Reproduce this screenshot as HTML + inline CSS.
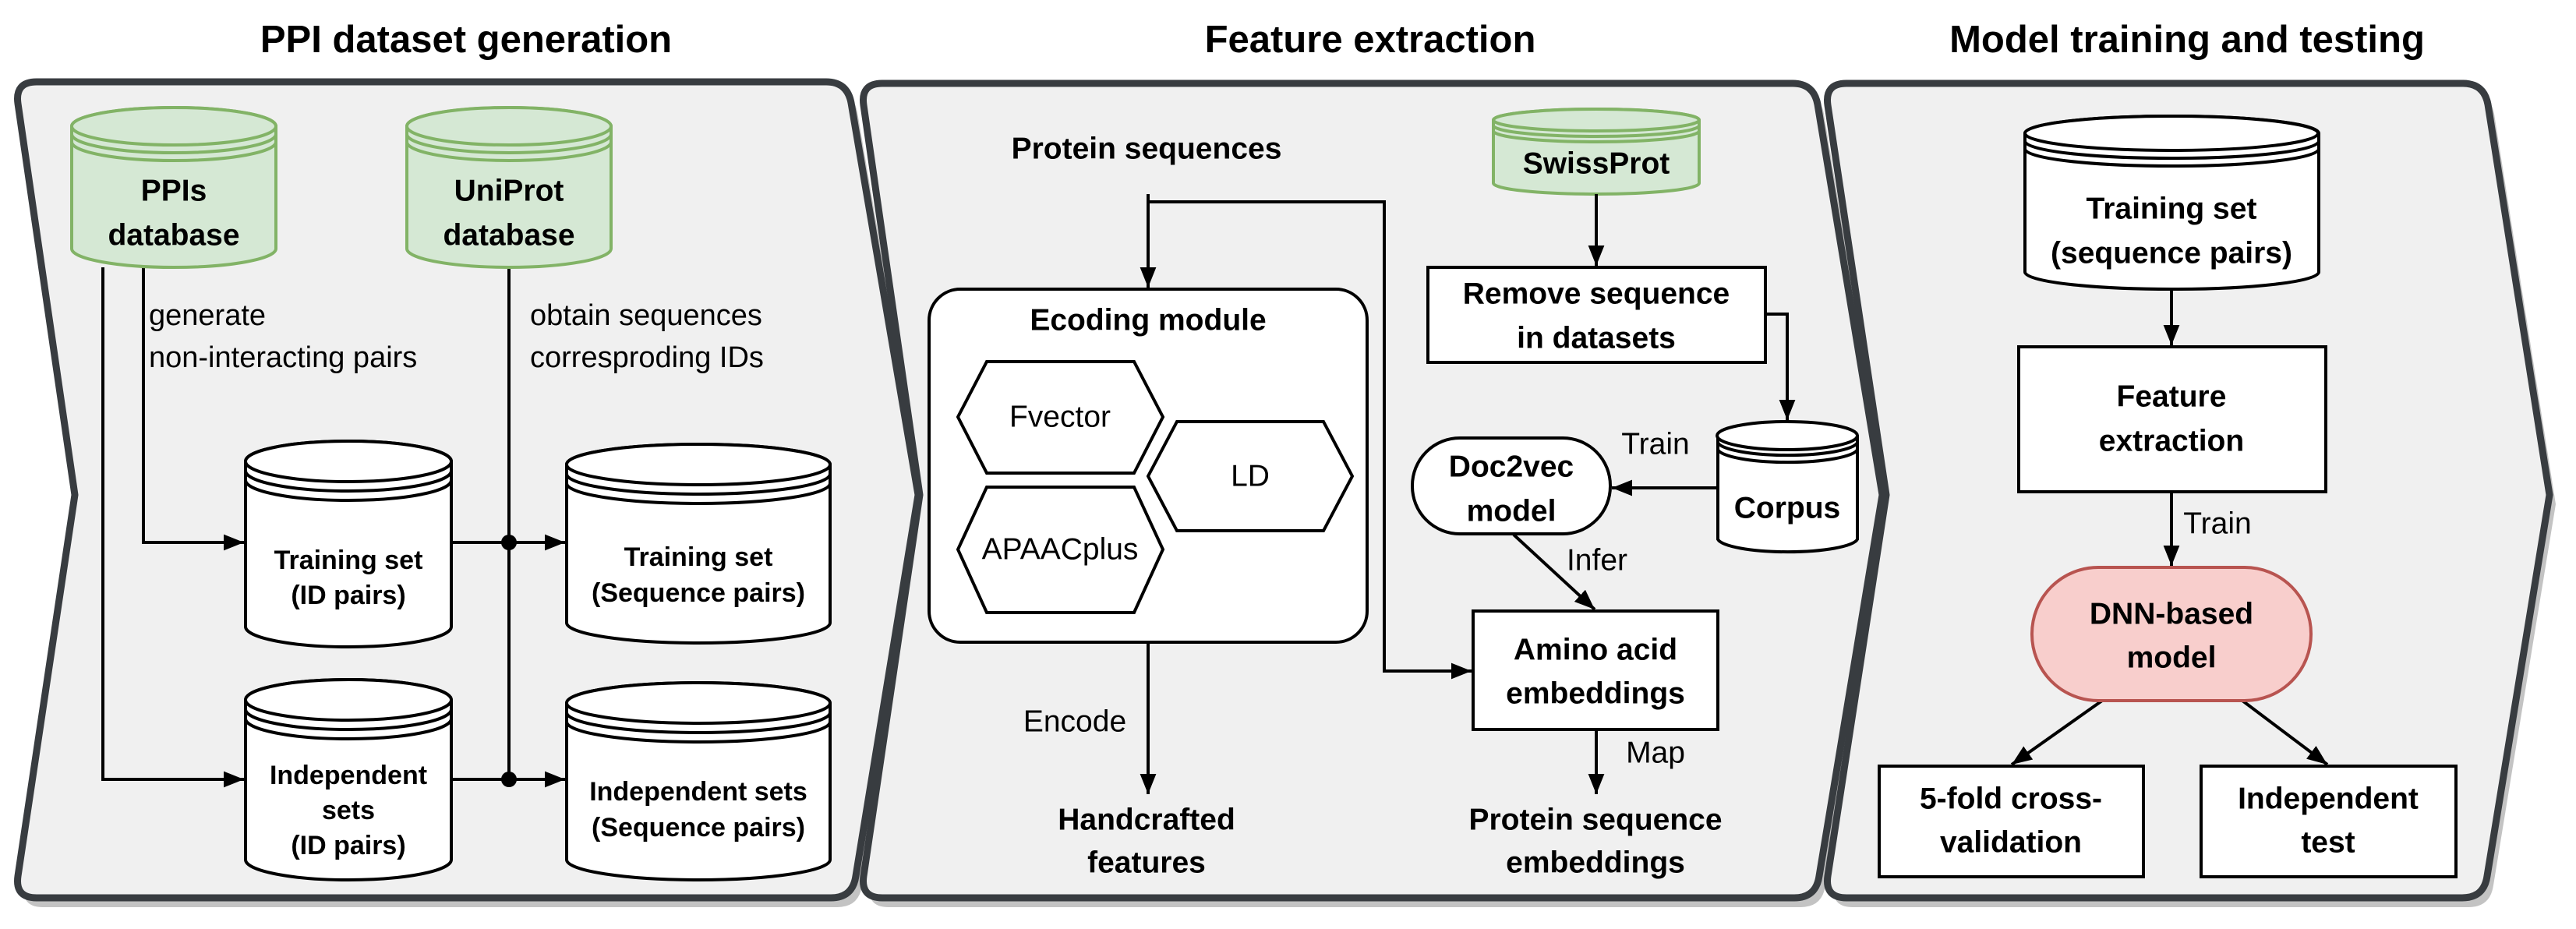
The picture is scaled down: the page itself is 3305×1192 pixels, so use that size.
<!DOCTYPE html>
<html><head><meta charset="utf-8"><style>
html,body{margin:0;padding:0;background:#fff;}
svg{display:block;}
text{font-family:"Liberation Sans",Arial,sans-serif;fill:#000;}
.b{font-weight:bold;}
</style></head><body>
<svg width="3305" height="1192" viewBox="0 0 3305 1192" xmlns="http://www.w3.org/2000/svg">
<defs>
<marker id="ar" viewBox="0 0 10 10" refX="10" refY="5" markerWidth="26" markerHeight="26" markerUnits="userSpaceOnUse" orient="auto">
<path d="M0,1 L10,5 L0,9 Z" fill="#000"/></marker>
</defs>

<!-- titles -->
<g class="b" font-size="49" text-anchor="middle">
<text x="598" y="67" class="b">PPI dataset generation</text>
<text x="1758" y="67" class="b">Feature extraction</text>
<text x="2806" y="67" class="b">Model training and testing</text>
</g>

<!-- panel shadows -->
<g fill="#c3c3c3" transform="translate(8,12)">
<path d="M47,105 L1060,105 Q1087,105 1092,132 L1178,635 L1098,1124 Q1094,1152 1066,1152 L47,1152 Q19,1152 23,1124 L96,635 L23,133 Q19,105 47,105 Z"/>
<path d="M1132,107 L2300,107 Q2327,107 2332,134 L2415,635 L2334,1124 Q2330,1152 2302,1152 L1132,1152 Q1104,1152 1108,1124 L1180,635 L1108,135 Q1104,107 1132,107 Z"/>
<path d="M2369,107 L3160,107 Q3187,107 3192,134 L3271,635 L3191,1124 Q3187,1152 3159,1152 L2369,1152 Q2341,1152 2345,1124 L2420,635 L2345,135 Q2341,107 2369,107 Z"/>
</g>
<!-- panels -->
<g fill="#f0f0f0" stroke="#383c40" stroke-width="9" stroke-linejoin="round">
<path d="M47,105 L1060,105 Q1087,105 1092,132 L1178,635 L1098,1124 Q1094,1152 1066,1152 L47,1152 Q19,1152 23,1124 L96,635 L23,133 Q19,105 47,105 Z"/>
<path d="M1132,107 L2300,107 Q2327,107 2332,134 L2415,635 L2334,1124 Q2330,1152 2302,1152 L1132,1152 Q1104,1152 1108,1124 L1180,635 L1108,135 Q1104,107 1132,107 Z"/>
<path d="M2369,107 L3160,107 Q3187,107 3192,134 L3271,635 L3191,1124 Q3187,1152 3159,1152 L2369,1152 Q2341,1152 2345,1124 L2420,635 L2345,135 Q2341,107 2369,107 Z"/>
</g>

<!-- ===== Panel 1 ===== -->
<g stroke="#000" stroke-width="4" fill="none">
<path d="M132,343 L132,1000 L313,1000" marker-end="url(#ar)"/>
<path d="M184,343 L184,696 L313,696" marker-end="url(#ar)"/>
<path d="M653,343 L653,1000"/>
<path d="M579,696 L725,696" marker-end="url(#ar)"/>
<path d="M579,1000 L725,1000" marker-end="url(#ar)"/>
</g>
<circle cx="653" cy="696" r="10" fill="#000"/>
<circle cx="653" cy="1000" r="10" fill="#000"/>

<!-- green cylinders -->
<g fill="#d5e8d4" stroke="#82b366" stroke-width="4">
<path d="M92,162 L92,319 A131,24 0 0 0 354,319 L354,162 A131,24 0 0 0 92,162 Z"/>
<ellipse cx="223" cy="162" rx="131" ry="24"/>
<path d="M92,172 A131,24 0 0 0 354,172 M92,182 A131,24 0 0 0 354,182" fill="none"/>
<path d="M522,162 L522,319 A131,24 0 0 0 784,319 L784,162 A131,24 0 0 0 522,162 Z"/>
<ellipse cx="653" cy="162" rx="131" ry="24"/>
<path d="M522,172 A131,24 0 0 0 784,172 M522,182 A131,24 0 0 0 784,182" fill="none"/>
<path d="M1916,154 L1916,235 A132,14 0 0 0 2180,235 L2180,154 A132,14 0 0 0 1916,154 Z"/>
<ellipse cx="2048" cy="154" rx="132" ry="14"/>
<path d="M1916,161 A132,14 0 0 0 2180,161 M1916,168 A132,14 0 0 0 2180,168" fill="none"/>
</g>

<!-- white cylinders -->
<g fill="#fff" stroke="#000" stroke-width="4">
<path d="M315,592 L315,804 A132,26 0 0 0 579,804 L579,592 A132,26 0 0 0 315,592 Z"/>
<ellipse cx="447" cy="592" rx="132" ry="26"/>
<path d="M315,604 A132,26 0 0 0 579,604 M315,616 A132,26 0 0 0 579,616" fill="none"/>

<path d="M727,596 L727,799 A169,26 0 0 0 1065,799 L1065,596 A169,26 0 0 0 727,596 Z"/>
<ellipse cx="896" cy="596" rx="169" ry="26"/>
<path d="M727,608 A169,26 0 0 0 1065,608 M727,620 A169,26 0 0 0 1065,620" fill="none"/>

<path d="M315,898 L315,1103 A132,26 0 0 0 579,1103 L579,898 A132,26 0 0 0 315,898 Z"/>
<ellipse cx="447" cy="898" rx="132" ry="26"/>
<path d="M315,910 A132,26 0 0 0 579,910 M315,922 A132,26 0 0 0 579,922" fill="none"/>

<path d="M727,902 L727,1103 A169,26 0 0 0 1065,1103 L1065,902 A169,26 0 0 0 727,902 Z"/>
<ellipse cx="896" cy="902" rx="169" ry="26"/>
<path d="M727,914 A169,26 0 0 0 1065,914 M727,926 A169,26 0 0 0 1065,926" fill="none"/>

<path d="M2204,559 L2204,692 A90,18 0 0 0 2383,692 L2383,559 A90,18 0 0 0 2204,559 Z"/>
<ellipse cx="2293" cy="559" rx="90" ry="18"/>
<path d="M2204,568 A90,18 0 0 0 2383,568 M2204,577 A90,18 0 0 0 2383,577" fill="none"/>

<path d="M2598,171 L2598,349 A188,22 0 0 0 2975,349 L2975,171 A188,22 0 0 0 2598,171 Z"/>
<ellipse cx="2786" cy="171" rx="188" ry="22"/>
<path d="M2598,181 A188,22 0 0 0 2975,181 M2598,191 A188,22 0 0 0 2975,191" fill="none"/>
</g>

<!-- panel 1 text -->
<g class="b" font-size="39" text-anchor="middle" dominant-baseline="central">
<text x="223" y="245" class="b">PPIs</text>
<text x="223" y="302" class="b">database</text>
<text x="653" y="245" class="b">UniProt</text>
<text x="653" y="302" class="b">database</text>
</g>
<g font-size="38" dominant-baseline="central">
<text x="191" y="405">generate</text>
<text x="191" y="459">non-interacting pairs</text>
<text x="680" y="405">obtain sequences</text>
<text x="680" y="459">corresproding IDs</text>
</g>
<g class="b" font-size="34" text-anchor="middle" dominant-baseline="central">
<text x="447" y="719" class="b">Training set</text>
<text x="447" y="764" class="b">(ID pairs)</text>
<text x="896" y="715" class="b">Training set</text>
<text x="896" y="761" class="b">(Sequence pairs)</text>
<text x="447" y="995" class="b">Independent</text>
<text x="447" y="1040" class="b">sets</text>
<text x="447" y="1085" class="b">(ID pairs)</text>
<text x="896" y="1016" class="b">Independent sets</text>
<text x="896" y="1062" class="b">(Sequence pairs)</text>
</g>

<!-- ===== Panel 2 ===== -->
<g stroke="#000" stroke-width="4" fill="none">
<path d="M1473,249 L1473,369" marker-end="url(#ar)"/>
<path d="M1473,259 L1776,259 L1776,861 L1888,861" marker-end="url(#ar)"/>
<path d="M1473,824 L1473,1019" marker-end="url(#ar)"/>
<path d="M2048,249 L2048,341" marker-end="url(#ar)"/>
<path d="M2265,403 L2293,403 L2293,539" marker-end="url(#ar)"/>
<path d="M2204,626 L2068,626" marker-end="url(#ar)"/>
<path d="M1942,686 L2046,782" marker-end="url(#ar)"/>
<path d="M2048,936 L2048,1019" marker-end="url(#ar)"/>
</g>
<rect x="1192" y="371" width="562" height="453" rx="40" fill="#fff" stroke="#000" stroke-width="4"/>
<g fill="#fff" stroke="#000" stroke-width="4">
<path d="M1266,464 L1455,464 L1492,535 L1455,607 L1266,607 L1229,535 Z"/>
<path d="M1510,541 L1698,541 L1735,611 L1698,681 L1510,681 L1473,611 Z"/>
<path d="M1266,625 L1455,625 L1492,705 L1455,786 L1266,786 L1229,705 Z"/>
<rect x="1832" y="343" width="433" height="122"/>
<rect x="1812" y="562" width="254" height="123" rx="61"/>
<rect x="1890" y="784" width="314" height="152"/>
</g>
<g class="b" font-size="39" text-anchor="middle" dominant-baseline="central">
<text x="1471" y="191" class="b">Protein sequences</text>
<text x="1473" y="411" class="b">Ecoding module</text>
<text x="2048" y="210" class="b">SwissProt</text>
<text x="2048" y="377" class="b">Remove sequence</text>
<text x="2048" y="434" class="b">in datasets</text>
<text x="2293" y="652" class="b">Corpus</text>
<text x="1939" y="599" class="b">Doc2vec</text>
<text x="1939" y="656" class="b">model</text>
<text x="2047" y="834" class="b">Amino acid</text>
<text x="2047" y="890" class="b">embeddings</text>
<text x="1471" y="1052" class="b">Handcrafted</text>
<text x="1471" y="1107" class="b">features</text>
<text x="2047" y="1052" class="b">Protein sequence</text>
<text x="2047" y="1107" class="b">embeddings</text>
</g>
<g font-size="39" text-anchor="middle" dominant-baseline="central">
<text x="1360" y="535">Fvector</text>
<text x="1604" y="611">LD</text>
<text x="1360" y="705">APAACplus</text>
<text x="1379" y="926">Encode</text>
<text x="2124" y="570">Train</text>
<text x="2049" y="719">Infer</text>
<text x="2124" y="966">Map</text>
</g>

<!-- ===== Panel 3 ===== -->
<g stroke="#000" stroke-width="4" fill="none">
<path d="M2786,371 L2786,443" marker-end="url(#ar)"/>
<path d="M2786,631 L2786,726" marker-end="url(#ar)"/>
<path d="M2697,899 L2581,981" marker-end="url(#ar)"/>
<path d="M2877,899 L2986,981" marker-end="url(#ar)"/>
</g>
<g fill="#fff" stroke="#000" stroke-width="4">
<rect x="2590" y="445" width="394" height="186"/>
<rect x="2411" y="983" width="339" height="142"/>
<rect x="2824" y="983" width="327" height="142"/>
</g>
<rect x="2607" y="728" width="358" height="171" rx="85" fill="#f8cecc" stroke="#b85450" stroke-width="4"/>
<g class="b" font-size="39" text-anchor="middle" dominant-baseline="central">
<text x="2786" y="268" class="b">Training set</text>
<text x="2786" y="325" class="b">(sequence pairs)</text>
<text x="2786" y="509" class="b">Feature</text>
<text x="2786" y="566" class="b">extraction</text>
<text x="2786" y="788" class="b">DNN-based</text>
<text x="2786" y="844" class="b">model</text>
<text x="2580" y="1025" class="b">5-fold cross-</text>
<text x="2580" y="1081" class="b">validation</text>
<text x="2987" y="1025" class="b">Independent</text>
<text x="2987" y="1081" class="b">test</text>
</g>
<text x="2845" y="672" font-size="39" text-anchor="middle" dominant-baseline="central">Train</text>
</svg>
</body></html>
